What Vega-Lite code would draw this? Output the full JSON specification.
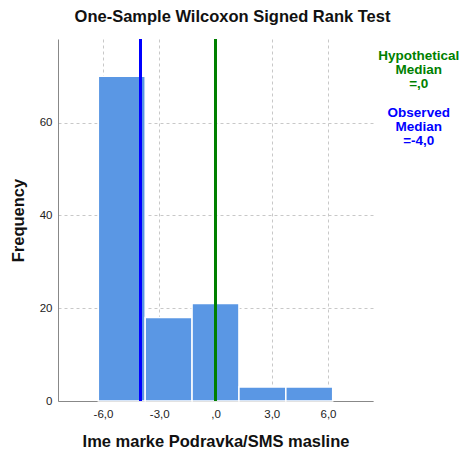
{
  "$schema": "https://vega.github.io/schema/vega-lite/v6.json",
  "autosize": "none",
  "width": 315,
  "height": 362,
  "padding": {"left": 58, "top": 39, "right": 92, "bottom": 55},
  "background": "white",
  "config": {
    "font": "Liberation Sans",
    "view": {"stroke": null},
    "axis": {
      "domainColor": "#888888",
      "ticks": false,
      "gridColor": "#c8c8c8",
      "gridDash": [3, 3],
      "labelColor": "#222222",
      "labelFontSize": 11.5,
      "titleFontSize": 16.5,
      "titleFontWeight": "bold",
      "titleColor": "#111111"
    }
  },
  "title": {
    "text": "One-Sample Wilcoxon Signed Rank Test",
    "fontSize": 16.5,
    "fontWeight": "bold",
    "color": "#111111",
    "anchor": "middle",
    "dx": 17,
    "offset": 12
  },
  "datasets": {
    "bins": [
      {"start": -6.25, "end": -3.75, "count": 70},
      {"start": -3.75, "end": -1.25, "count": 18},
      {"start": -1.25, "end": 1.25, "count": 21},
      {"start": 1.25, "end": 3.75, "count": 3},
      {"start": 3.75, "end": 6.25, "count": 3}
    ],
    "medians": [
      {"name": "Hypothetical", "value": 0},
      {"name": "Observed", "value": -4.0}
    ],
    "notes": [
      {"name": "Hypothetical", "label": "Hypothetical\nMedian\n=,0", "x": 10.84, "y": 75.8},
      {"name": "Observed", "label": "Observed\nMedian\n=-4,0", "x": 10.84, "y": 63.6}
    ]
  },
  "layer": [
    {
      "data": {"name": "bins"},
      "mark": {"type": "rect", "color": "#5a97e4", "stroke": "white", "strokeWidth": 1.5},
      "encoding": {
        "x": {
          "field": "start",
          "type": "quantitative",
          "scale": {"domain": [-8.4, 8.4], "nice": false, "zero": false},
          "axis": {
            "values": [-6, -3, 0, 3, 6],
            "labelExpr": "datum.value == 0 ? ',0' : replace(replace(format(datum.value, '.1f'), '.', ','), '\u2212', '-')",
            "labelPadding": 7,
            "title": "Ime marke Podravka/SMS masline",
            "titlePadding": 14
          }
        },
        "x2": {"field": "end"},
        "y": {
          "field": "count",
          "type": "quantitative",
          "scale": {"domain": [0, 78], "nice": false},
          "axis": {
            "values": [0, 20, 40, 60],
            "labelPadding": 6,
            "title": "Frequency",
            "titlePadding": 13
          }
        },
        "y2": {"datum": 0}
      }
    },
    {
      "data": {"name": "medians"},
      "mark": {"type": "rule", "strokeWidth": 3},
      "encoding": {
        "x": {"field": "value", "type": "quantitative"},
        "color": {
          "field": "name",
          "type": "nominal",
          "scale": {"domain": ["Hypothetical", "Observed"], "range": ["#008000", "#0000ff"]},
          "legend": null
        }
      }
    },
    {
      "data": {"name": "notes"},
      "mark": {"type": "text", "lineBreak": "\n", "fontWeight": "bold", "fontSize": 13.5, "baseline": "top", "align": "center", "clip": false, "lineHeight": 14},
      "encoding": {
        "x": {"field": "x", "type": "quantitative"},
        "y": {"field": "y", "type": "quantitative"},
        "text": {"field": "label"},
        "color": {"field": "name", "type": "nominal", "legend": null}
      }
    }
  ]
}
